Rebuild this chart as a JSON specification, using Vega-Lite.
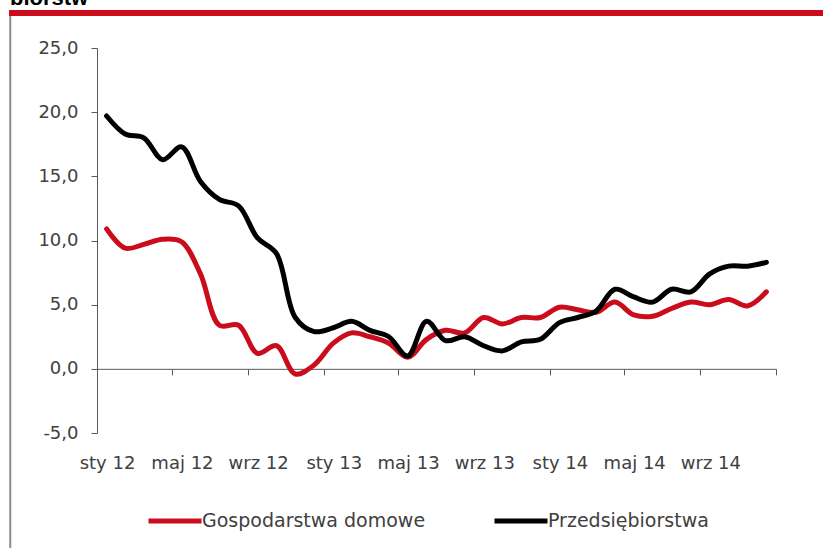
{
  "$schema": "https://vega.github.io/schema/vega-lite/v6.json",
  "width": 679,
  "height": 385,
  "autosize": {"type": "none"},
  "padding": {"left": 97, "top": 48, "right": 47, "bottom": 115},
  "background": "white",
  "config": {
    "locale": {"number": {"decimal": ",", "thousands": " ", "grouping": [3], "currency": ["", " zł"], "minus": "-"}},
    "view": {"stroke": null},
    "font": "DejaVu Sans"
  },
  "title": {"text": "biorstw", "anchor": "start", "frame": "group", "dx": -87, "offset": 0, "font": "Liberation Sans", "fontSize": 22, "fontWeight": "bold", "color": "#000000"},
  "datasets": {
    "credit": [
      {"date": "2012-01", "series": "Gospodarstwa domowe", "value": 10.9},
      {"date": "2012-02", "series": "Gospodarstwa domowe", "value": 9.4},
      {"date": "2012-03", "series": "Gospodarstwa domowe", "value": 9.7},
      {"date": "2012-04", "series": "Gospodarstwa domowe", "value": 10.1},
      {"date": "2012-05", "series": "Gospodarstwa domowe", "value": 9.9},
      {"date": "2012-06", "series": "Gospodarstwa domowe", "value": 7.4},
      {"date": "2012-07", "series": "Gospodarstwa domowe", "value": 3.4},
      {"date": "2012-08", "series": "Gospodarstwa domowe", "value": 3.4},
      {"date": "2012-09", "series": "Gospodarstwa domowe", "value": 1.2},
      {"date": "2012-10", "series": "Gospodarstwa domowe", "value": 1.8},
      {"date": "2012-11", "series": "Gospodarstwa domowe", "value": -0.4},
      {"date": "2012-12", "series": "Gospodarstwa domowe", "value": 0.3},
      {"date": "2013-01", "series": "Gospodarstwa domowe", "value": 2.0},
      {"date": "2013-02", "series": "Gospodarstwa domowe", "value": 2.8},
      {"date": "2013-03", "series": "Gospodarstwa domowe", "value": 2.5},
      {"date": "2013-04", "series": "Gospodarstwa domowe", "value": 2.0},
      {"date": "2013-05", "series": "Gospodarstwa domowe", "value": 0.9},
      {"date": "2013-06", "series": "Gospodarstwa domowe", "value": 2.3},
      {"date": "2013-07", "series": "Gospodarstwa domowe", "value": 3.0},
      {"date": "2013-08", "series": "Gospodarstwa domowe", "value": 2.8},
      {"date": "2013-09", "series": "Gospodarstwa domowe", "value": 4.0},
      {"date": "2013-10", "series": "Gospodarstwa domowe", "value": 3.5},
      {"date": "2013-11", "series": "Gospodarstwa domowe", "value": 4.0},
      {"date": "2013-12", "series": "Gospodarstwa domowe", "value": 4.0},
      {"date": "2014-01", "series": "Gospodarstwa domowe", "value": 4.8},
      {"date": "2014-02", "series": "Gospodarstwa domowe", "value": 4.6},
      {"date": "2014-03", "series": "Gospodarstwa domowe", "value": 4.4},
      {"date": "2014-04", "series": "Gospodarstwa domowe", "value": 5.2},
      {"date": "2014-05", "series": "Gospodarstwa domowe", "value": 4.2},
      {"date": "2014-06", "series": "Gospodarstwa domowe", "value": 4.1},
      {"date": "2014-07", "series": "Gospodarstwa domowe", "value": 4.7},
      {"date": "2014-08", "series": "Gospodarstwa domowe", "value": 5.2},
      {"date": "2014-09", "series": "Gospodarstwa domowe", "value": 5.0},
      {"date": "2014-10", "series": "Gospodarstwa domowe", "value": 5.4},
      {"date": "2014-11", "series": "Gospodarstwa domowe", "value": 4.9},
      {"date": "2014-12", "series": "Gospodarstwa domowe", "value": 6.0},
      {"date": "2012-01", "series": "Przedsiębiorstwa", "value": 19.7},
      {"date": "2012-02", "series": "Przedsiębiorstwa", "value": 18.3},
      {"date": "2012-03", "series": "Przedsiębiorstwa", "value": 18.0},
      {"date": "2012-04", "series": "Przedsiębiorstwa", "value": 16.3},
      {"date": "2012-05", "series": "Przedsiębiorstwa", "value": 17.3},
      {"date": "2012-06", "series": "Przedsiębiorstwa", "value": 14.6},
      {"date": "2012-07", "series": "Przedsiębiorstwa", "value": 13.2},
      {"date": "2012-08", "series": "Przedsiębiorstwa", "value": 12.7},
      {"date": "2012-09", "series": "Przedsiębiorstwa", "value": 10.2},
      {"date": "2012-10", "series": "Przedsiębiorstwa", "value": 9.0},
      {"date": "2012-11", "series": "Przedsiębiorstwa", "value": 4.0},
      {"date": "2012-12", "series": "Przedsiębiorstwa", "value": 2.9},
      {"date": "2013-01", "series": "Przedsiębiorstwa", "value": 3.2},
      {"date": "2013-02", "series": "Przedsiębiorstwa", "value": 3.7},
      {"date": "2013-03", "series": "Przedsiębiorstwa", "value": 3.0},
      {"date": "2013-04", "series": "Przedsiębiorstwa", "value": 2.5},
      {"date": "2013-05", "series": "Przedsiębiorstwa", "value": 1.0},
      {"date": "2013-06", "series": "Przedsiębiorstwa", "value": 3.7},
      {"date": "2013-07", "series": "Przedsiębiorstwa", "value": 2.2},
      {"date": "2013-08", "series": "Przedsiębiorstwa", "value": 2.5},
      {"date": "2013-09", "series": "Przedsiębiorstwa", "value": 1.8},
      {"date": "2013-10", "series": "Przedsiębiorstwa", "value": 1.4},
      {"date": "2013-11", "series": "Przedsiębiorstwa", "value": 2.1},
      {"date": "2013-12", "series": "Przedsiębiorstwa", "value": 2.3},
      {"date": "2014-01", "series": "Przedsiębiorstwa", "value": 3.6},
      {"date": "2014-02", "series": "Przedsiębiorstwa", "value": 4.0},
      {"date": "2014-03", "series": "Przedsiębiorstwa", "value": 4.5},
      {"date": "2014-04", "series": "Przedsiębiorstwa", "value": 6.2},
      {"date": "2014-05", "series": "Przedsiębiorstwa", "value": 5.6},
      {"date": "2014-06", "series": "Przedsiębiorstwa", "value": 5.2},
      {"date": "2014-07", "series": "Przedsiębiorstwa", "value": 6.2},
      {"date": "2014-08", "series": "Przedsiębiorstwa", "value": 6.0},
      {"date": "2014-09", "series": "Przedsiębiorstwa", "value": 7.4},
      {"date": "2014-10", "series": "Przedsiębiorstwa", "value": 8.0},
      {"date": "2014-11", "series": "Przedsiębiorstwa", "value": 8.0},
      {"date": "2014-12", "series": "Przedsiębiorstwa", "value": 8.3}
    ]
  },
  "layer": [
    {
      "data": {"values": [{}]},
      "mark": {"type": "rule", "color": "#CB0C1C", "strokeWidth": 6},
      "encoding": {
        "x": {"datum": {"year": 2011, "month": 8, "date": 12, "utc": true}, "type": "temporal"},
        "x2": {"datum": {"year": 2015, "month": 3, "date": 25, "utc": true}},
        "y": {"datum": 27.73, "type": "quantitative"}
      }
    },
    {
      "data": {"values": [{}]},
      "mark": {"type": "rule", "color": "#8C8C8C", "strokeWidth": 2},
      "encoding": {
        "x": {"datum": {"year": 2011, "month": 8, "date": 14, "utc": true}, "type": "temporal"},
        "y": {"datum": 27.5, "type": "quantitative"},
        "y2": {"datum": -15}
      }
    },
    {
      "data": {"name": "credit"},
      "mark": {"type": "line", "interpolate": "catmull-rom", "strokeWidth": 5, "strokeCap": "round", "strokeJoin": "round"},
      "encoding": {
        "x": {
          "field": "date",
          "timeUnit": "utcyearmonth",
          "type": "temporal",
          "bandPosition": 0.5,
          "title": null,
          "scale": {"type": "utc", "domain": [{"year": 2012, "month": 1, "date": 1, "utc": true}, {"year": 2015, "month": 1, "date": 1, "utc": true}]},
          "axis": {
            "orient": "bottom",
            "offset": -64.17,
            "values": [
              {"year": 2012, "month": 1, "date": 1, "utc": true},
              {"year": 2012, "month": 5, "date": 1, "utc": true},
              {"year": 2012, "month": 9, "date": 1, "utc": true},
              {"year": 2013, "month": 1, "date": 1, "utc": true},
              {"year": 2013, "month": 5, "date": 1, "utc": true},
              {"year": 2013, "month": 9, "date": 1, "utc": true},
              {"year": 2014, "month": 1, "date": 1, "utc": true},
              {"year": 2014, "month": 5, "date": 1, "utc": true},
              {"year": 2014, "month": 9, "date": 1, "utc": true},
              {"year": 2015, "month": 1, "date": 1, "utc": true}
            ],
            "labelExpr": "utcyear(datum.value) > 2014 ? '' : ['sty','lut','mar','kwi','maj','cze','lip','sie','wrz','paź','lis','gru'][utcmonth(datum.value)] + ' ' + utcFormat(datum.value, '%y')",
            "labelOffset": 10,
            "labelPadding": 80,
            "tickSize": 6,
            "domainColor": "#595959",
            "tickColor": "#595959",
            "labelFont": "DejaVu Sans",
            "labelFontSize": 18,
            "labelColor": "#404040",
            "labelFlush": false,
            "labelOverlap": false,
            "labelBound": false,
            "grid": false
          }
        },
        "y": {
          "field": "value",
          "type": "quantitative",
          "title": null,
          "scale": {"domain": [-5, 25], "nice": false, "zero": false},
          "axis": {
            "values": [-5, 0, 5, 10, 15, 20, 25],
            "format": ".1f",
            "tickSize": 6,
            "labelPadding": 13,
            "domainColor": "#595959",
            "tickColor": "#595959",
            "labelFont": "DejaVu Sans",
            "labelFontSize": 18,
            "labelColor": "#404040",
            "labelOverlap": false,
            "labelFlush": false,
            "grid": false
          }
        },
        "color": {
          "field": "series",
          "type": "nominal",
          "scale": {"domain": ["Gospodarstwa domowe", "Przedsiębiorstwa"], "range": ["#CB0C1C", "#000000"]},
          "legend": {
            "orient": "none",
            "legendX": 49,
            "legendY": 444,
            "direction": "horizontal",
            "title": null,
            "symbolType": "stroke",
            "symbolSize": 2809,
            "symbolStrokeWidth": 5,
            "labelFont": "DejaVu Sans",
            "labelFontSize": 19,
            "labelColor": "#404040",
            "labelOffset": -2,
            "labelLimit": 400,
            "columnPadding": 58,
            "padding": 0
          }
        }
      }
    }
  ]
}
